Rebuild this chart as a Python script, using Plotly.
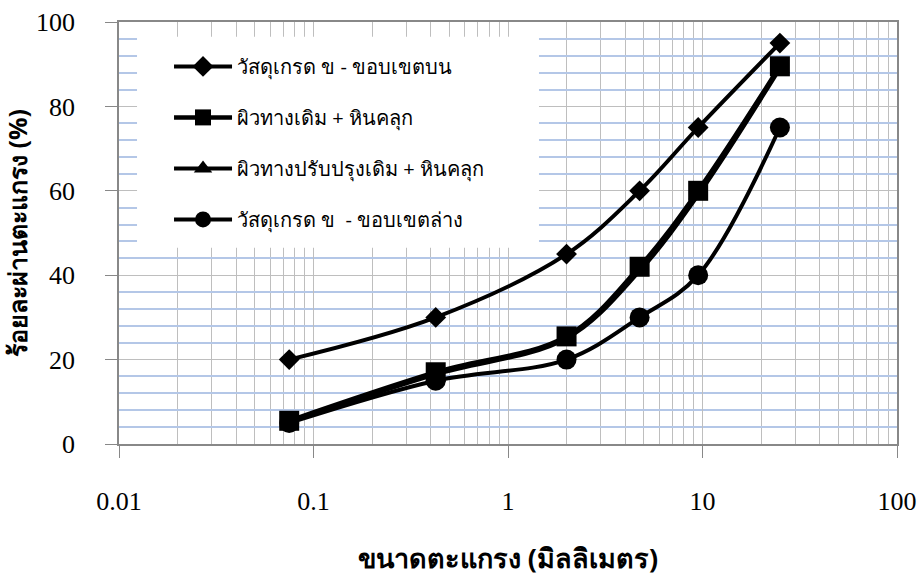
import plotly.graph_objects as go

sieve_mm = [0.075, 0.425, 2.0, 4.75, 9.5, 25.0]
upper = [20, 30, 45, 60, 75, 95]
old_surface = [5.5, 17, 25.5, 42, 60, 89.5]
improved_surface = [5.2, 16.5, 25, 41, 59, 89]
lower = [5, 15, 20, 30, 40, 75]

names = ["วัสดุเกรด ข - ขอบเขตบน", "ผิวทางเดิม + หินคลุก",
         "ผิวทางปรับปรุงเดิม + หินคลุก", "วัสดุเกรด ข  - ขอบเขตล่าง"]
symbols = ["diamond", "square", "triangle-up", "circle"]
sizes = [16, 20, 17, 20]
widths = [4, 4.5, 4, 4]
series = [upper, old_surface, improved_surface, lower]

x_ticks = [0.01, 0.1, 1, 10, 100]
x_ticklabels = ["0.01", "0.1", "1", "10", "100"]

fig = go.Figure()
for i, (nm, ys) in enumerate(zip(names, series)):
    fig.add_trace(go.Scatter(
        x=sieve_mm, y=ys, name=nm, mode="lines+markers",
        line=dict(color="black", width=widths[i], shape="spline", smoothing=1.0),
        marker=dict(symbol=symbols[i], size=sizes[i], color="black"),
        legendgroup=f"g{i}",
    ))

# white legend box that hides gridlines
fig.add_shape(type="rect", xref="x", yref="y", x0=0.01238, x1=1.443, y0=46.5, y1=96.5,
              fillcolor="white", line_width=0, layer="between")

serif = "Liberation Serif"
fig.update_layout(
    width=923, height=580,
    margin=dict(l=119, r=26, t=22, b=136),
    paper_bgcolor="white", plot_bgcolor="white",
    showlegend=True,
    legend=dict(x=0.0643, y=0.941, xanchor="left", yanchor="top",
                bgcolor="rgba(0,0,0,0)", font=dict(size=20, color="black"),
                itemwidth=58, tracegroupgap=22),
    xaxis=dict(type="log", range=[-2, 2], tickvals=x_ticks, ticktext=x_ticklabels,
               automargin=False, ticklabeloverflow="allow",
               ticks="outside", ticklen=12, tickcolor="#888888", ticklabelstandoff=21,
               showline=True, linecolor="#888888", linewidth=1.5, mirror=True,
               showgrid=True, gridcolor="#BEBEBE", gridwidth=1,
               minor=dict(dtick="D1", showgrid=True, gridcolor="#BEBEBE", gridwidth=1, ticks=""),
               tickfont=dict(family=serif, size=26, color="black"),
               title=dict(text="<b>ขนาดตะแกรง (มิลลิเมตร)</b>", font=dict(size=27, color="black"), standoff=34),
               zeroline=False),
    yaxis=dict(range=[0, 100], dtick=20, ticks="outside", ticklen=12, tickcolor="#888888",
               automargin=False, ticklabeloverflow="allow", ticklabelstandoff=25,
               showline=True, linecolor="#888888", linewidth=1.5, mirror=True,
               showgrid=True, gridcolor="#BEBEBE", gridwidth=1,
               minor=dict(dtick=4, showgrid=True, gridcolor="#B4C7E7", gridwidth=2, ticks=""),
               tickfont=dict(family=serif, size=26, color="black"),
               title=dict(text="<b>ร้อยละผ่านตะแกรง (%)</b>", font=dict(size=25, color="black"), standoff=4),
               zeroline=False),
)

fig.write_html("out.html", config={"displayModeBar": False},
               post_script="document.body.style.margin='0';")
